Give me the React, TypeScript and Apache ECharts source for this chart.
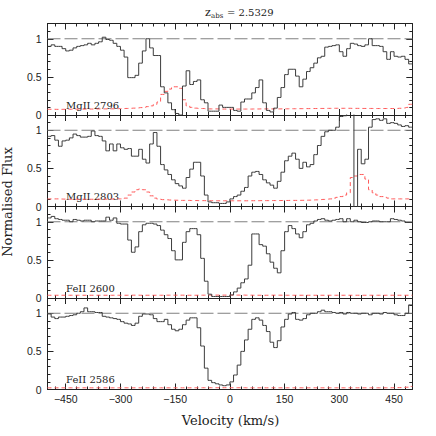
import React, { useEffect, useRef } from "react";
import * as echarts from "echarts";

// Velocity bin centres (km/s)
const VELOCITY = [
  -495, -485, -475, -465, -455, -445, -435, -425, -415, -405,
  -395, -385, -375, -365, -355, -345, -335, -325, -315, -305,
  -295, -285, -275, -265, -255, -245, -235, -225, -215, -205,
  -195, -185, -175, -165, -155, -145, -135, -125, -115, -105,
  -95, -85, -75, -65, -55, -45, -35, -25, -15, -5,
  5, 15, 25, 35, 45, 55, 65, 75, 85, 95,
  105, 115, 125, 135, 145, 155, 165, 175, 185, 195,
  205, 215, 225, 235, 245, 255, 265, 275, 285, 295,
  305, 315, 325, 335, 345, 355, 365, 375, 385, 395,
  405, 415, 425, 435, 445, 455, 465, 475, 485, 495,
];

const MG2796_FLUX = [
  0.90, 0.92, 0.90, 0.90, 0.87, 0.84, 0.85, 0.88, 0.90, 0.91,
  0.92, 0.94, 0.92, 0.94, 0.96, 1.02, 0.99, 0.98, 0.94, 0.90,
  0.85, 0.76, 0.49, 0.49, 0.52, 0.68, 0.84, 1.00, 0.88, 0.78,
  0.78, 0.37, 0.29, 0.16, 0.07, 0.02, 0.00, 0.38, 0.58, 0.40,
  0.44, 0.46, 0.20, 0.16, 0.05, 0.05, 0.05, 0.13, 0.10, 0.10,
  0.10, 0.06, 0.05, 0.17, 0.21, 0.21, 0.29, 0.36, 0.46, 0.16,
  0.06, 0.04, 0.09, 0.23, 0.36, 0.53, 0.60, 0.60, 0.51, 0.37,
  0.47, 0.57, 0.62, 0.68, 0.75, 0.77, 0.89, 0.90, 0.91, 0.92,
  0.83, 0.77, 0.87, 0.94, 0.93, 0.91, 0.90, 0.92, 1.00, 0.91,
  0.91, 0.90, 0.83, 0.73, 0.83, 0.77, 0.76, 0.77, 0.73, 0.67,
];
const MG2796_ERR = [
  0.075, 0.075, 0.074, 0.074, 0.075, 0.075, 0.076, 0.076, 0.077, 0.077,
  0.077, 0.078, 0.078, 0.079, 0.080, 0.080, 0.080, 0.081, 0.082, 0.083,
  0.084, 0.086, 0.088, 0.090, 0.093, 0.097, 0.100, 0.110, 0.120, 0.140,
  0.170, 0.270, 0.310, 0.340, 0.370, 0.370, 0.350, 0.200, 0.120, 0.100,
  0.090, 0.085, 0.085, 0.080, 0.080, 0.080, 0.080, 0.078, 0.078, 0.078,
  0.078, 0.078, 0.078, 0.078, 0.078, 0.078, 0.079, 0.079, 0.080, 0.080,
  0.080, 0.080, 0.080, 0.080, 0.081, 0.081, 0.082, 0.082, 0.083, 0.083,
  0.084, 0.084, 0.085, 0.085, 0.086, 0.086, 0.087, 0.087, 0.088, 0.088,
  0.088, 0.088, 0.088, 0.087, 0.087, 0.087, 0.086, 0.086, 0.086, 0.085,
  0.085, 0.085, 0.085, 0.085, 0.085, 0.086, 0.088, 0.092, 0.100, 0.140,
];

const MG2803_FLUX = [
  0.92, 0.93, 0.87, 0.79, 0.86, 0.87, 0.90, 0.95, 0.93, 0.91,
  0.91, 0.92, 0.99, 0.93, 0.92, 0.86, 0.73, 0.82, 0.73, 0.82,
  0.77, 0.75, 0.76, 0.66, 0.66, 0.75, 0.62, 0.57, 0.82, 0.97,
  0.79, 0.55, 0.48, 0.42, 0.35, 0.30, 0.27, 0.24, 0.38, 0.49,
  0.58, 0.58, 0.40, 0.15, 0.06, 0.05, 0.05, 0.04, 0.04, 0.06,
  0.10, 0.13, 0.15, 0.20, 0.25, 0.40, 0.45, 0.46, 0.42, 0.35,
  0.31, 0.28, 0.24, 0.33, 0.45, 0.60, 0.66, 0.70, 0.62, 0.50,
  0.58, 0.52, 0.55, 0.68, 0.80, 0.92, 0.98, 1.00, 1.00, 1.04,
  1.18, 1.19, 1.22, 1.30, -0.30, 0.75, 0.56, 0.62, 1.04, 1.14,
  1.15, 1.13, 1.15, 1.09, 1.10, 1.09, 1.07, 1.05, 1.06, 1.04,
];
const MG2803_ERR = [
  0.100, 0.100, 0.100, 0.098, 0.097, 0.096, 0.095, 0.095, 0.095, 0.095,
  0.095, 0.095, 0.095, 0.095, 0.095, 0.096, 0.097, 0.098, 0.100, 0.100,
  0.100, 0.110, 0.150, 0.190, 0.220, 0.230, 0.220, 0.190, 0.140, 0.110,
  0.095, 0.090, 0.088, 0.085, 0.083, 0.082, 0.080, 0.080, 0.080, 0.078,
  0.078, 0.077, 0.077, 0.076, 0.076, 0.075, 0.075, 0.075, 0.075, 0.075,
  0.075, 0.075, 0.075, 0.075, 0.075, 0.076, 0.076, 0.076, 0.077, 0.077,
  0.077, 0.078, 0.078, 0.078, 0.079, 0.079, 0.080, 0.080, 0.080, 0.081,
  0.082, 0.083, 0.085, 0.087, 0.090, 0.093, 0.097, 0.100, 0.110, 0.120,
  0.130, 0.150, 0.180, 0.380, 0.400, 0.420, 0.420, 0.360, 0.220, 0.180,
  0.150, 0.130, 0.120, 0.110, 0.100, 0.100, 0.100, 0.100, 0.100, 0.100,
];

const FE2600_FLUX = [
  1.05, 1.07, 1.04, 1.03, 1.02, 1.02, 1.00, 1.03, 1.02, 1.01,
  1.02, 1.02, 1.00, 1.01, 1.01, 1.01, 1.06, 1.02, 1.05, 0.98,
  0.97, 0.97, 0.76, 0.60, 0.67, 0.87, 0.96, 0.98, 0.98, 0.97,
  0.95, 0.89, 0.83, 0.78, 0.62, 0.50, 0.50, 0.73, 0.87, 0.91,
  0.91, 0.83, 0.52, 0.22, 0.05, 0.02, 0.02, 0.02, 0.02, 0.02,
  0.04, 0.08, 0.13, 0.20, 0.25, 0.43, 0.84, 0.84, 0.70, 0.68,
  0.58, 0.47, 0.39, 0.33, 0.62, 0.87, 0.95, 0.91, 0.84, 0.79,
  0.87, 0.96, 0.98, 1.01, 1.03, 1.04, 1.02, 1.01, 1.02, 1.03,
  1.04, 1.00, 1.04, 1.00, 1.02, 1.00, 0.99, 0.99, 1.00, 1.01,
  1.01, 1.00, 1.00, 1.00, 1.04, 1.03, 1.02, 1.01, 0.99, 0.99,
];
const FE2600_ERR = [
  0.036, 0.036, 0.036, 0.036, 0.036, 0.036, 0.036, 0.036, 0.036, 0.036,
  0.036, 0.036, 0.036, 0.036, 0.036, 0.036, 0.036, 0.036, 0.036, 0.036,
  0.036, 0.036, 0.037, 0.037, 0.037, 0.036, 0.036, 0.036, 0.036, 0.036,
  0.036, 0.036, 0.037, 0.037, 0.037, 0.037, 0.037, 0.037, 0.036, 0.036,
  0.036, 0.037, 0.037, 0.038, 0.038, 0.038, 0.038, 0.038, 0.038, 0.038,
  0.038, 0.038, 0.038, 0.038, 0.037, 0.037, 0.036, 0.036, 0.036, 0.036,
  0.036, 0.037, 0.037, 0.037, 0.036, 0.036, 0.036, 0.036, 0.036, 0.036,
  0.036, 0.036, 0.036, 0.036, 0.036, 0.036, 0.036, 0.036, 0.036, 0.036,
  0.036, 0.036, 0.036, 0.036, 0.036, 0.036, 0.036, 0.036, 0.036, 0.036,
  0.036, 0.036, 0.036, 0.036, 0.036, 0.036, 0.036, 0.036, 0.036, 0.036,
];

const FE2586_FLUX = [
  0.99, 0.95, 0.93, 0.95, 0.95, 0.96, 0.97, 0.98, 1.00, 1.02,
  1.07, 1.02, 1.02, 1.01, 1.01, 0.96, 0.95, 0.94, 0.93, 0.92,
  0.89, 0.87, 0.86, 0.84, 0.87, 0.96, 0.99, 0.99, 0.98, 0.93,
  0.89, 0.89, 0.92, 0.85, 0.79, 0.77, 0.79, 0.85, 0.91, 0.94,
  0.94, 0.81, 0.57, 0.28, 0.12, 0.09, 0.075, 0.06, 0.05, 0.06,
  0.10, 0.19, 0.32, 0.50, 0.65, 0.79, 0.92, 0.94, 0.91, 0.84,
  0.76, 0.62, 0.55, 0.64, 0.82, 0.92, 0.99, 1.01, 0.92, 0.91,
  0.93, 0.98, 1.00, 1.00, 1.02, 1.04, 1.02, 1.02, 1.01, 1.00,
  1.01, 0.99, 1.01, 1.00, 1.00, 0.99, 1.00, 1.00, 0.98, 1.00,
  1.00, 0.99, 1.01, 1.00, 1.00, 0.98, 0.97, 0.97, 1.00, 1.11,
];
const FE2586_ERR = [
  0.022, 0.022, 0.022, 0.022, 0.022, 0.022, 0.022, 0.022, 0.022, 0.022,
  0.022, 0.022, 0.022, 0.022, 0.022, 0.022, 0.022, 0.022, 0.022, 0.022,
  0.022, 0.022, 0.022, 0.022, 0.022, 0.022, 0.022, 0.022, 0.022, 0.022,
  0.022, 0.022, 0.022, 0.022, 0.022, 0.022, 0.022, 0.022, 0.022, 0.022,
  0.022, 0.022, 0.023, 0.023, 0.023, 0.023, 0.023, 0.023, 0.023, 0.023,
  0.023, 0.023, 0.023, 0.023, 0.022, 0.022, 0.022, 0.022, 0.022, 0.022,
  0.022, 0.022, 0.022, 0.022, 0.022, 0.022, 0.022, 0.022, 0.022, 0.022,
  0.022, 0.022, 0.022, 0.022, 0.022, 0.022, 0.022, 0.022, 0.022, 0.022,
  0.022, 0.022, 0.022, 0.022, 0.022, 0.022, 0.022, 0.022, 0.022, 0.022,
  0.022, 0.022, 0.022, 0.022, 0.023, 0.024, 0.025, 0.027, 0.030, 0.040,
];

const PANEL_LABELS = ["MgII 2796", "MgII 2803", "FeII 2600", "FeII 2586"];
const PANEL_FLUX = [MG2796_FLUX, MG2803_FLUX, FE2600_FLUX, FE2586_FLUX];
const PANEL_ERR = [MG2796_ERR, MG2803_ERR, FE2600_ERR, FE2586_ERR];

const X_MIN = -500;
const X_MAX = 500;
const Y_MIN = 0;
const Y_MAX = 1.2;
const CONTINUUM = 1;
const X_MAJOR = [-450, -300, -150, 0, 150, 300, 450];
const X_MINOR = [
  -480, -450, -420, -390, -360, -330, -300, -270, -240, -210, -180, -150, -120, -90, -60, -30,
  0, 30, 60, 90, 120, 150, 180, 210, 240, 270, 300, 330, 360, 390, 420, 450, 480,
];
const Y_MAJOR = [0, 0.5, 1];
const Y_MINOR = [0.1, 0.2, 0.3, 0.4, 0.6, 0.7, 0.8, 0.9, 1.1];

const TITLE_Z = "z";
const TITLE_SUB = "abs";
const TITLE_VALUE = "= 2.5329";
const X_NAME = "Velocity (km/s)";
const Y_NAME = "Normalised Flux";

// layout
const GRID_LEFT = 47.5;
const GRID_WIDTH = 364.8;
const GRID_TOPS = [23.5, 115, 206.5, 298];
const GRID_HEIGHT = 91.5;

const AXIS_COLOR = "#222";
const TEXT_COLOR = "#222";
const NUM_FONT = "Liberation Sans";
const TXT_FONT = "DejaVu Serif";

function fmtNum(v: number): string {
  if (v < 0) return "\u2212" + String(-v);
  return String(v);
}

export default function App() {
  const ref = useRef<HTMLDivElement>(null);

  useEffect(() => {
    if (!ref.current) return;
    const chart = echarts.init(ref.current, undefined, { renderer: "svg" });

    const grids: any[] = [];
    const xAxes: any[] = [];
    const yAxes: any[] = [];
    const series: any[] = [];
    const graphics: any[] = [];

    for (let g = 0; g < 4; g++) {
      grids.push({
        left: GRID_LEFT,
        width: GRID_WIDTH,
        top: GRID_TOPS[g],
        height: GRID_HEIGHT,
        containLabel: false,
      });

      const mkX = (position: string, ticks: number[], len: number, line: boolean, labels: boolean) => ({
        type: "value",
        gridIndex: g,
        position,
        min: X_MIN,
        max: X_MAX,
        axisLine: { show: line, onZero: false, lineStyle: { color: AXIS_COLOR, width: 1 } },
        axisTick: { show: true, inside: true, length: len, customValues: ticks, lineStyle: { color: AXIS_COLOR, width: 1 } },
        axisLabel: labels
          ? {
              show: true,
              customValues: X_MAJOR,
              formatter: (v: number) => fmtNum(v),
              margin: 4,
              color: TEXT_COLOR,
              fontFamily: NUM_FONT,
              fontSize: 10.5,
            }
          : { show: false },
        splitLine: { show: false },
        minorTick: { show: false },
      });
      xAxes.push(mkX("bottom", X_MAJOR, 6, true, g === 3));
      xAxes.push(mkX("bottom", X_MINOR, 3, false, false));
      xAxes.push(mkX("top", X_MAJOR, 6, true, false));
      xAxes.push(mkX("top", X_MINOR, 3, false, false));

      const mkY = (position: string, ticks: number[], len: number, line: boolean, labels: boolean) => ({
        type: "value",
        gridIndex: g,
        position,
        min: Y_MIN,
        max: Y_MAX,
        axisLine: { show: line, onZero: false, lineStyle: { color: AXIS_COLOR, width: 1 } },
        axisTick: { show: true, inside: true, length: len, customValues: ticks, lineStyle: { color: AXIS_COLOR, width: 1 } },
        axisLabel: labels
          ? {
              show: true,
              customValues: Y_MAJOR,
              formatter: (v: number) => fmtNum(v),
              margin: 6,
              color: TEXT_COLOR,
              fontFamily: NUM_FONT,
              fontSize: 10.5,
            }
          : { show: false },
        splitLine: { show: false },
        minorTick: { show: false },
      });
      yAxes.push(mkY("left", Y_MAJOR, 6, true, true));
      yAxes.push(mkY("left", Y_MINOR, 3, false, false));
      yAxes.push(mkY("right", Y_MAJOR, 6, true, false));
      yAxes.push(mkY("right", Y_MINOR, 3, false, false));

      const flux = PANEL_FLUX[g];
      const err = PANEL_ERR[g];
      const n = VELOCITY.length;
      const fluxData: number[][] = [[X_MIN, flux[0]]];
      const errData: number[][] = [[X_MIN, err[0]]];
      for (let i = 0; i < n; i++) {
        fluxData.push([VELOCITY[i], flux[i]]);
        errData.push([VELOCITY[i], err[i]]);
      }
      fluxData.push([X_MAX, flux[n - 1]]);
      errData.push([X_MAX, err[n - 1]]);

      series.push({
        type: "line",
        xAxisIndex: g * 4,
        yAxisIndex: g * 4,
        data: [[X_MIN, CONTINUUM], [X_MAX, CONTINUUM]],
        showSymbol: false,
        symbol: "none",
        silent: true,
        clip: true,
        z: 1,
        lineStyle: { color: "#808080", width: 1, type: [13, 4] },
      });
      series.push({
        type: "line",
        xAxisIndex: g * 4,
        yAxisIndex: g * 4,
        data: errData,
        step: "middle",
        showSymbol: false,
        symbol: "none",
        silent: true,
        clip: true,
        z: 2,
        lineStyle: { color: "#ff5a5a", width: 1, type: [4, 3] },
      });
      series.push({
        type: "line",
        xAxisIndex: g * 4,
        yAxisIndex: g * 4,
        data: fluxData,
        step: "middle",
        showSymbol: false,
        symbol: "none",
        silent: true,
        clip: true,
        z: 3,
        lineStyle: { color: "#3c3c3c", width: 1 },
      });

      graphics.push({
        type: "text",
        x: 66,
        y: GRID_TOPS[g] + GRID_HEIGHT - 10,
        silent: true,
        style: {
          text: PANEL_LABELS[g],
          fill: TEXT_COLOR,
          font: `10px "${TXT_FONT}"`,
          align: "left",
          verticalAlign: "middle",
        },
      });
    }

    // Title z_abs = 2.5329
    graphics.push({
      type: "text",
      x: 205,
      y: 12,
      silent: true,
      style: { text: TITLE_Z, fill: TEXT_COLOR, font: `11px "${TXT_FONT}"`, align: "left", verticalAlign: "middle" },
    });
    graphics.push({
      type: "text",
      x: 211,
      y: 16,
      silent: true,
      style: { text: TITLE_SUB, fill: TEXT_COLOR, font: `7px "${TXT_FONT}"`, align: "left", verticalAlign: "middle" },
    });
    graphics.push({
      type: "text",
      x: 227,
      y: 12,
      silent: true,
      style: { text: TITLE_VALUE, fill: TEXT_COLOR, font: `10px "${TXT_FONT}"`, align: "left", verticalAlign: "middle" },
    });
    // Axis names
    graphics.push({
      type: "text",
      x: 230.5,
      y: 420,
      silent: true,
      style: { text: X_NAME, fill: TEXT_COLOR, font: `13px "${TXT_FONT}"`, align: "center", verticalAlign: "middle" },
    });
    graphics.push({
      type: "text",
      x: 7.5,
      y: 202,
      rotation: Math.PI / 2,
      silent: true,
      style: { text: Y_NAME, fill: TEXT_COLOR, font: `13px "${TXT_FONT}"`, align: "center", verticalAlign: "middle" },
    });

    chart.setOption({
      animation: false,
      backgroundColor: "#ffffff",
      grid: grids,
      xAxis: xAxes,
      yAxis: yAxes,
      series,
      graphic: graphics,
    });

    return () => {
      chart.dispose();
    };
  }, []);

  return (
    <div
      ref={ref}
      style={{ position: "fixed", left: 0, top: 0, width: 436, height: 436, background: "#fff" }}
    />
  );
}
